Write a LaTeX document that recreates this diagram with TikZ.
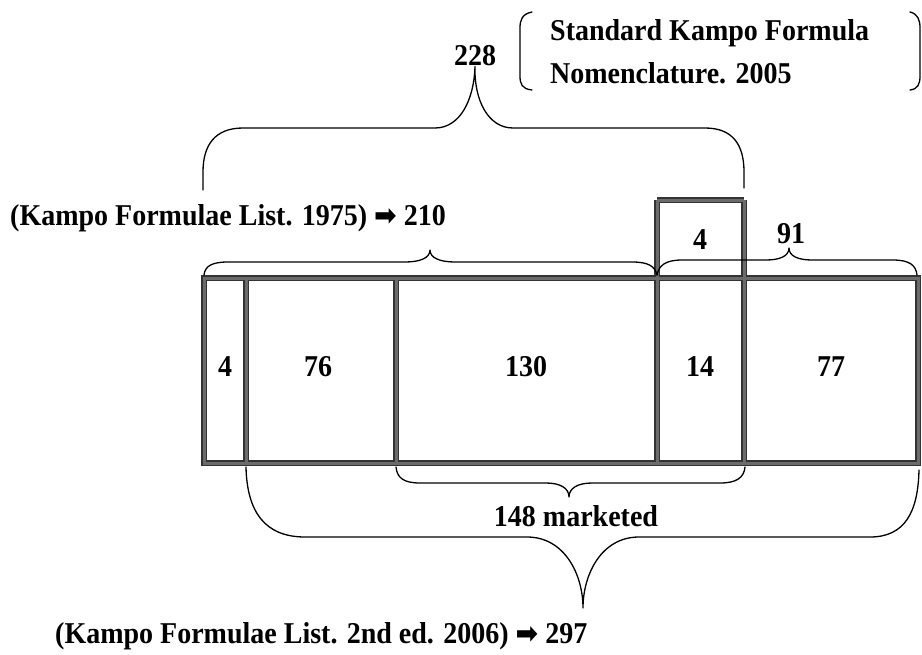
\documentclass[tikz,border=0pt]{standalone}
\usepackage{fontspec}
\setmainfont{Liberation Serif}
\newfontfamily\arrowfont{DejaVu Sans}
\begin{document}
\begin{tikzpicture}[x=1pt,y=-1pt,
  txt/.style={inner sep=0pt,yscale=1.08,font=\fontsize{28}{34}\selectfont\bfseries},
  boxline/.style={draw=black!80,line width=5.5pt},
  boxfill/.style={draw=black!58,line width=3pt},
  brace/.style={draw=black,line width=1.3pt,line cap=round,line join=round}]
\useasboundingbox (0,0) rectangle (922,654);
\newcommand{\arr}{{\arrowfont\fontsize{27}{27}\selectfont ➡}}
% ---- grid of cells
\foreach \s in {boxline,boxfill}{
  \draw[\s] (204,278) rectangle (918,463);
  \draw[\s] (246,278) -- (246,463);
  \draw[\s] (396,278) -- (396,463);
  \draw[\s] (657,200) -- (657,463);
  \draw[\s] (744,200) -- (744,463);
  \draw[\s] (657,200) -- (744,200);
}
% ---- texts
\node[txt] (t228) at (475,56) {228};
\node[txt,anchor=west] (std1) at (550,33) {Standard Kampo Formula};
\node[txt,anchor=west] (std2) at (550,73) {Nomenclature. 2005};
\node[txt,anchor=west] (l1975) at (10,218) {(Kampo Formulae List. 1975) \arr\ 210};
\node[txt] (t91) at (791,234) {91};
\node[txt] (t4top) at (700,240) {4};
\node[txt] (c4) at (225,367) {4};
\node[txt] (c76) at (318,367) {76};
\node[txt] (c130) at (526,367) {130};
\node[txt] (c14) at (700,367) {14};
\node[txt] (c77) at (831,367) {77};
\node[txt] (t148) at (576,516) {148 marketed};
\node[txt,anchor=west] (l2006) at (55,636) {(Kampo Formulae List. 2nd ed. 2006) \arr\ 297};
% ---- brackets around the 2005 title
\draw[brace] (532,12) .. controls (522,14) and (520,20) .. (520,28) -- (520,76)
  .. controls (520,84) and (522,89) .. (532,90);
\draw[brace] (910,12) .. controls (918,14) and (920,20) .. (920,28) -- (920,76)
  .. controls (920,84) and (918,89) .. (910,90);
% ---- brace 228
\draw[brace] (203,190) -- (203,172) .. controls (203,145) and (215,128) .. (243,128)
  -- (435,128) .. controls (460,128) and (474,100) .. (t228.south)
  .. controls (474,100) and (488,128) .. (513,128) -- (705,128)
  .. controls (733,128) and (744,145) .. (744,172) -- (744,188);
% ---- brace 210
\draw[brace] (204,275) .. controls (205,266) and (212,262) .. (228,262) -- (405,262)
  .. controls (420,262) and (430,258) .. (430,250)
  .. controls (430,258) and (440,262) .. (455,262) -- (632,262)
  .. controls (648,262) and (655,266) .. (657,275);
% ---- brace 91
\draw[brace] (657,275) .. controls (659,265) and (666,260) .. (682,260) -- (766,260)
  .. controls (780,260) and (789,256) .. (789,248)
  .. controls (789,256) and (798,260) .. (812,260) -- (893,260)
  .. controls (909,260) and (916,265) .. (917,275);
% ---- brace 148
\draw[brace] (396,467) .. controls (397,478) and (404,483) .. (420,483) -- (546,483)
  .. controls (560,483) and (569,488) .. (569,497)
  .. controls (569,488) and (578,483) .. (592,483) -- (720,483)
  .. controls (736,483) and (744,478) .. (745,467);
% ---- brace 297
\draw[brace] (246,467) .. controls (247,512) and (265,537) .. (305,537) -- (527,537)
  .. controls (565,537) and (583,575) .. (583,608)
  .. controls (583,575) and (601,537) .. (639,537) -- (870,537)
  .. controls (905,537) and (918,512) .. (919,470);
\end{tikzpicture}
\end{document}
